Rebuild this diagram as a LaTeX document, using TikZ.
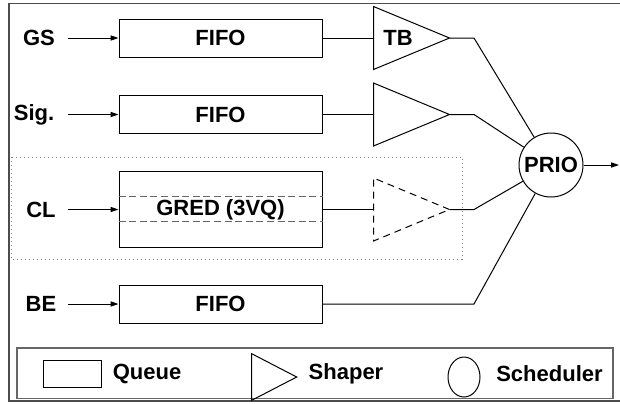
\documentclass[tikz,border=0pt]{standalone}
\usepackage{fontspec}
\setmainfont{Liberation Sans}
\usetikzlibrary{arrows.meta,positioning,shapes.geometric}
\tikzset{
  queuebox/.style={
    rectangle,
    draw,
    minimum width=101.5pt,
    minimum height=19pt,
    inner sep=0pt
  },
  shaper/.style={
    isosceles triangle,
    isosceles triangle stretches,
    draw,
    minimum width=31.5pt,
    minimum height=38pt,
    inner sep=0pt,
    outer sep=0pt
  },
  sched/.style={
    circle,
    draw,
    minimum size=32pt,
    inner sep=0pt
  },
  vqline/.style={gray!80!black, dash pattern=on 3.5pt off 1.8pt},
  flowline/.style={-{Triangle[length=4pt,width=2.6pt]}}
}

\begin{document}
\begin{tikzpicture}[x=0.5pt, y=-0.5pt, line width=0.5pt,
    font=\bfseries\fontsize{11}{13}\selectfont]
  \useasboundingbox (0,0) rectangle (620,403);
  % outer frame, open to the right
  \draw[black!70, line width=0.8pt] (640,3.5) -- (9,3.5) -- (9,401) -- (640,401);
  % controlled-load group
  \draw[gray, dash pattern=on 0.6pt off 1.4pt] (11,157) rectangle (462,259);

  % queues
  \node[queuebox] (gsq) at (220.5,38) {FIFO};
  \node[queuebox] (sigq) at (220.5,114.5) {FIFO};
  \node[queuebox, minimum height=38pt] (clq) at (220.5,209.5) {};
  \node[queuebox] (beq) at (220.5,304) {FIFO};
  \draw[vqline] ([yshift=6.4pt]clq.west) -- ([yshift=6.4pt]clq.east);
  \draw[vqline] ([yshift=-6.2pt]clq.west) -- ([yshift=-6.2pt]clq.east);
  \node (gred) at (clq) {GRED (3VQ)};

  % shapers
  \node[shaper, right=25.5pt of gsq] (gsshp) {};
  \node[shaper, right=25.5pt of sigq] (sigshp) {};
  \node[shaper, dash pattern=on 3.5pt off 2.5pt, right=25.5pt of clq] (clshp) {};
  \node (tb) at (398,38) {TB};

  % scheduler
  \node[sched] (prio) at (551,165) {PRIO};
  \coordinate (bend) at (474,0);
  \coordinate (in) at (68,0);
  \coordinate (out) at (619,165);

  % traffic classes
  \node (gs) at (39,38) {GS};
  \node (sig) at (34,114.5) {Sig.};
  \node (cl) at (41,209.5) {CL};
  \node (be) at (41,304) {BE};
  \draw[flowline] (gs.east -| in) -- (gsq);
  \draw[flowline] (sig.east -| in) -- (sigq);
  \draw[flowline] (cl.east -| in) -- (clq);
  \draw[flowline] (be.east -| in) -- (beq);

  \draw (gsq.east) -- (gsshp.west);
  \draw (sigq.east) -- (sigshp.west);
  \draw (clq.east) -- (clshp.west);
  \draw (gsshp.apex) -- (gsshp.apex -| bend) -- (prio);
  \draw (sigshp.apex) -- (sigshp.apex -| bend) -- (prio);
  \draw (clshp.apex) -- (clshp.apex -| bend) -- (prio);
  \draw (beq.east) -- (beq.east -| bend) -- (prio);
  \draw[flowline] (prio) -- (out);

  % legend
  \draw[black!60, line width=0.7pt] (17,348) rectangle (613,398.5);
  \node[queuebox, minimum width=29pt, minimum height=13.5pt] (lgq) at (72,373.5) {};
  \node (lgqt) at (147,373.5) {Queue};
  \node[shaper, minimum width=23.3pt, minimum height=22.5pt, anchor=west] (lgs) at (251.7,377) {};
  \node (lgst) at (346,374) {Shaper};
  \node[ellipse, draw, minimum width=16pt, minimum height=20pt, inner sep=0pt] (lgc) at (464,377) {};
  \node (lgct) at (549.5,374) {Scheduler};
\end{tikzpicture}
\end{document}
